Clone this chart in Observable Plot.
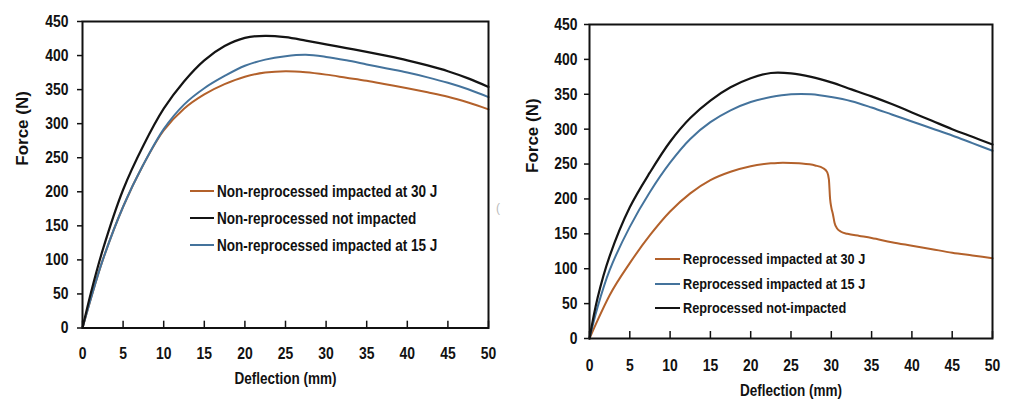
<!DOCTYPE html>
<html>
<head>
<meta charset="utf-8">
<script src="https://cdn.jsdelivr.net/npm/d3@7"></script>
<script src="https://cdn.jsdelivr.net/npm/@observablehq/plot@0.6"></script>
<style>
  html, body { margin: 0; padding: 0; background: #fff; }
  #wrap { position: relative; width: 1009px; height: 403px; overflow: hidden; background: #fff; }
  .panel { position: absolute; top: 0; }
  .legend { position: absolute; left: 0; top: 0; font-weight: bold; color: #111; }
  .row { position: absolute; display: flex; align-items: center; white-space: nowrap; height: 20px; }
  .sw { height: 2px; margin-right: 3px; flex: none; }
  .lt { display: inline-block; transform-origin: left center; }
</style>
</head>
<body>
<div id="wrap">
  <div id="left" class="panel" style="left:0"></div>
  <div id="right" class="panel" style="left:500px"></div>
</div>
<script>
// ---------- data ----------
const xTicks = [0, 5, 10, 15, 20, 25, 30, 35, 40, 45, 50];
const yTicks = [0, 50, 100, 150, 200, 250, 300, 350, 400, 450];
const xTitle = "Deflection (mm)";
const yTitle = "Force (N)";

// Left panel: non-reprocessed
const leftX = [0, 1, 2.5, 5, 7.5, 10, 12.5, 15, 17.5, 20, 22.5, 25, 27.5, 30, 32.5, 35, 37.5, 40, 42.5, 45, 47.5, 50];
const leftNotImpacted = [0, 50, 115, 203, 268, 322, 362, 393, 414, 426, 429, 427, 422, 416.5, 411, 405.5, 399.5, 393, 385.5, 377, 366.5, 354];
const leftImpacted15  = [0, 42, 100, 178, 240, 292, 328, 352, 370, 385, 394, 399, 401, 398, 393, 387, 381, 375, 368, 360, 350.5, 339];
const leftImpacted30  = [0, 42, 100, 178, 240, 290, 322, 343, 358, 369, 375, 377, 375.5, 372, 367.5, 363, 357.5, 352, 346, 339.5, 331, 321];
const leftLabels = ["Non-reprocessed impacted at 30 J", "Non-reprocessed not impacted", "Non-reprocessed impacted at 15 J"];

// Right panel: reprocessed
const rightX = [0, 1, 2.5, 5, 7.5, 10, 12.5, 15, 17.5, 20, 22.5, 25, 27.5, 30, 32.5, 35, 37.5, 40, 42.5, 45, 47.5, 50];
const rightNotImpacted = [0, 58, 118, 188, 238, 282, 316, 341, 360, 373, 380.5, 380, 375, 367, 357, 347, 336, 324, 312, 300, 289, 278];
const rightImpacted15  = [0, 45, 98, 160, 210, 252, 286, 310, 327, 339, 346, 350, 350, 346, 340, 331, 321, 311, 301, 291, 280, 269];
const rightImpacted30X = [0, 1, 2.5, 5, 7.5, 10, 12.5, 15, 17.5, 20, 22.5, 24, 26, 28, 29, 29.5, 29.7, 29.85, 30, 30.2, 30.4, 30.7, 31.2, 32, 33.5, 35, 37.5, 40, 42.5, 45, 47.5, 50];
const rightImpacted30  = [0, 26, 62, 108, 148, 182, 208, 227, 239, 247, 251, 252, 251, 248, 244, 238, 228, 200, 188, 178, 166, 158, 153, 150, 147, 144, 138, 133, 128, 123, 119, 115];
const rightLabels = ["Reprocessed impacted at 30 J", "Reprocessed impacted at 15 J", "Reprocessed not-impacted"];

const colors = { orange: "#b3612b", blue: "#44739c", black: "#141414" };

// ---------- font detection (condensed look) ----------
const ctx = document.createElement("canvas").getContext("2d");
function tw(f) { ctx.font = "bold 16px " + f; return ctx.measureText("Non-reprocessed impacted").width; }
const hasNarrow = tw('"Liberation Sans Narrow", monospace') < 0.9 * tw('"Liberation Sans", monospace');
const FONT = hasNarrow ? '"Liberation Sans Narrow", sans-serif' : '"Liberation Sans", Arial, sans-serif';
const K = hasNarrow ? 1 : 0.82;

function px(v, fs) {
  if (v == null || v === "") return 0;
  return String(v).endsWith("em") ? parseFloat(v) * fs : parseFloat(v) || 0;
}
function condense(svg, k) {
  if (k === 1) return;
  svg.querySelectorAll("text").forEach(t => {
    if (t.closest(".nocondense")) return;
    const fs = parseFloat(getComputedStyle(t).fontSize) || 17;
    const x = px(t.getAttribute("x"), fs), y = px(t.getAttribute("y"), fs);
    const dx = px(t.getAttribute("dx"), fs);
    const tr = t.getAttribute("transform") || "";
    t.setAttribute("transform", `${tr} translate(${x + dx},${y}) scale(${k},1)`);
    t.removeAttribute("x"); t.removeAttribute("y"); t.removeAttribute("dx");
  });
}

function panel(cfg) {
  const marks = [
    Plot.axisY({ ticks: yTicks, tickSize: 5, tickPadding: cfg.yPad, label: null, strokeWidth: 1.5 }),
    Plot.axisX({ ticks: xTicks, tickSize: 0, tickPadding: cfg.xPad, label: null }),
    Plot.ruleX(xTicks, { y1: 0, y2: 10, stroke: "#111", strokeWidth: 1.5 })
  ];
  cfg.series.forEach(s => {
    marks.push(Plot.line(s.x.map((x, i) => ({ x, y: s.y[i] })), {
      x: "x", y: "y", stroke: s.color, strokeWidth: s.width || 2, curve: s.curve || "catmull-rom"
    }));
  });
  marks.push(
    Plot.frame({ stroke: "#111", strokeWidth: 2 }),
    Plot.text([yTitle], { text: d => d, frameAnchor: "left", dx: cfg.ytDx, dy: cfg.ytDy, rotate: -90, fontSize: 17, fontWeight: "bold", fill: "#111", className: "nocondense" }),
    Plot.text([xTitle], { text: d => d, frameAnchor: "bottom", dy: cfg.xtDy, fontSize: 16.5, fontWeight: "bold", fill: "#111" })
  );
  const svg = Plot.plot({
    width: cfg.width, height: 403,
    marginLeft: cfg.mL, marginRight: cfg.mR, marginTop: cfg.mT, marginBottom: cfg.mB,
    style: { fontFamily: FONT, fontSize: "17px", fontWeight: "bold", color: "#111", background: "transparent", overflow: "visible" },
    x: { domain: [0, 50] },
    y: { domain: [0, 450] },
    marks
  });
  return svg;
}

const leftSvg = panel({
  width: 500, mL: 82, mR: 12, mT: 21, mB: 75.5, yPad: 9, xPad: 19, ytDx: -60, ytDy: -9, xtDy: 55.5,
  series: [
    { x: leftX, y: leftImpacted30, color: colors.orange },
    { x: leftX, y: leftImpacted15, color: colors.blue },
    { x: leftX, y: leftNotImpacted, color: colors.black, width: 2.2 }
  ]
});
document.getElementById("left").append(leftSvg);
condense(leftSvg, K);

const rightSvg = panel({
  width: 509, mL: 89, mR: 17, mT: 24, mB: 65, yPad: 7, xPad: 20, ytDx: -57, ytDy: -8.5, xtDy: 57,
  series: [
    { x: rightImpacted30X, y: rightImpacted30, color: colors.orange, curve: "monotone-x" },
    { x: rightX, y: rightImpacted15, color: colors.blue },
    { x: rightX, y: rightNotImpacted, color: colors.black, width: 2.2 }
  ]
});
document.getElementById("right").append(rightSvg);
condense(rightSvg, K);

// ---------- legends (HTML overlay) ----------
function legend(labels, cols, left, centers, swW, fs) {
  const lg = document.createElement("div");
  lg.className = "legend";
  lg.style.fontFamily = FONT;
  lg.style.fontSize = fs + "px";
  labels.forEach((lab, i) => {
    const r = document.createElement("div");
    r.className = "row";
    r.style.left = left + "px";
    r.style.top = (centers[i] - 10) + "px";
    const sw = document.createElement("div");
    sw.className = "sw";
    sw.style.width = swW + "px";
    sw.style.background = cols[i];
    const t = document.createElement("span");
    t.className = "lt";
    t.style.transform = `scaleX(${K})`;
    t.textContent = lab;
    r.append(sw, t);
    lg.append(r);
  });
  document.getElementById("wrap").append(lg);
}
legend(leftLabels, [colors.orange, colors.black, colors.blue], 190, [191, 218, 245], 24, 16.5);
legend(rightLabels, [colors.orange, colors.blue, colors.black], 655, [259, 284, 308], 25, 15.5);

// stray mark from the original image
const stray = document.createElement("div");
stray.textContent = "(";
stray.style.cssText = "position:absolute;left:496px;top:201px;font:12px sans-serif;color:#bbb;";
document.getElementById("wrap").append(stray);
</script>
</body>
</html>
